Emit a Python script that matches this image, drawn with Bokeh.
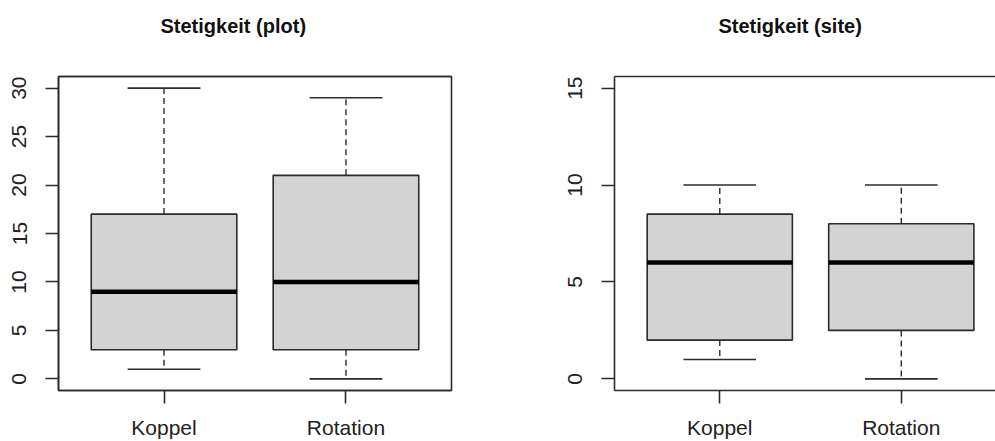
from bokeh.plotting import figure
from bokeh.layouts import row
from bokeh.models import Range1d, FixedTicker, LinearAxis
from bokeh.embed import file_html
from bokeh.resources import INLINE

# ---- data ----
categories = ["Koppel", "Rotation"]

plot_titles = ["Stetigkeit (plot)", "Stetigkeit (site)"]

# Stetigkeit (plot)
plot_low = [1, 0]
plot_q1 = [3, 3]
plot_med = [9, 10]
plot_q3 = [17, 21]
plot_high = [30, 29]
plot_yticks = [0, 5, 10, 15, 20, 25, 30]

# Stetigkeit (site)
site_low = [1, 0]
site_q1 = [2, 2.5]
site_med = [6, 6]
site_q3 = [8.5, 8]
site_high = [10, 10]
site_yticks = [0, 5, 10, 15]

FONT = "Liberation Sans"
EDGE = "#2b2b2b"
FILL = "#d3d3d3"


def make(title, low, q1, med, q3, high, yticks, yrange, xrange, fw, left, right, full_box, toff):
    p = figure(output_backend="svg", toolbar_location=None,
               frame_width=fw, frame_height=314,
               min_border_left=left, min_border_right=right,
               min_border_top=76, min_border_bottom=51,
               x_range=Range1d(*xrange), y_range=Range1d(*yrange),
               background_fill_color="white", border_fill_color="white")
    p.xgrid.visible = False
    p.ygrid.visible = False
    xa = p.below[0]
    ya = p.left[0]
    if full_box:
        p.outline_line_color = EDGE
        p.outline_line_width = 1.6
        p.outline_line_alpha = 1
    else:
        p.outline_line_color = None
    # top edge of the box; its blank label keeps the title away from the frame
    top = LinearAxis(ticker=FixedTicker(ticks=[]), major_label_text_font_size="0px",
                     axis_line_color=EDGE, axis_line_width=1.6,
                     major_tick_line_color=None, minor_tick_line_color=None,
                     major_label_standoff=0,
                     axis_label=" ", axis_label_text_font_size="20px",
                     axis_label_standoff=15)
    p.add_layout(top, "above")

    xs = list(range(1, len(categories) + 1))
    hw = 0.4
    cw = 0.2
    # whiskers (dashed)
    p.segment(x0=xs, y0=q3, x1=xs, y1=high, line_color=EDGE, line_width=1.4, line_dash="6 4")
    p.segment(x0=xs, y0=q1, x1=xs, y1=low, line_color=EDGE, line_width=1.4, line_dash="6 4")
    # caps
    p.segment(x0=[x - cw for x in xs], y0=high, x1=[x + cw for x in xs], y1=high,
              line_color=EDGE, line_width=1.6)
    p.segment(x0=[x - cw for x in xs], y0=low, x1=[x + cw for x in xs], y1=low,
              line_color=EDGE, line_width=1.6)
    # boxes
    p.vbar(x=xs, width=2 * hw, bottom=q1, top=q3, fill_color=FILL,
           line_color=EDGE, line_width=1.6)
    # medians
    p.segment(x0=[x - hw for x in xs], y0=med, x1=[x + hw for x in xs], y1=med,
              line_color="black", line_width=4.5)

    # axes
    xa.ticker = FixedTicker(ticks=xs)
    xa.major_label_overrides = {x: c for x, c in zip(xs, categories)}
    ya.ticker = FixedTicker(ticks=yticks)
    ya.major_label_orientation = "vertical"
    for ax in (xa, ya):
        ax.axis_line_color = EDGE
        ax.axis_line_width = 1.6
        ax.major_tick_line_color = EDGE
        ax.major_tick_line_width = 1.6
        ax.major_tick_in = 0
        ax.major_tick_out = 13
        ax.minor_tick_line_color = None
        ax.major_label_text_font = FONT
        ax.major_label_text_font_size = "21px"
        ax.major_label_text_color = "#222222"
    xa.major_label_standoff = 12
    ya.major_label_standoff = 19

    p.title.text = title
    p.title.text_font = FONT
    p.title.text_font_size = "20px"
    p.title.text_font_style = "bold"
    p.title.text_color = "#111111"
    p.title.align = "left"
    p.title.offset = toff
    p.title.standoff = 0
    return p


p1 = make(plot_titles[0], plot_low, plot_q1, plot_med, plot_q3, plot_high, plot_yticks,
          (-1.2, 31.2), (0.42, 2.58), 393, 58, 79, True, 102)
p2 = make(plot_titles[1], site_low, site_q1, site_med, site_q3, site_high, site_yticks,
          (-0.6, 15.6), (0.42, 2.519), 381, 84, 0, False, 104)

layout = row(p1, p2)
open("out.html", "w").write(file_html(layout, INLINE))
